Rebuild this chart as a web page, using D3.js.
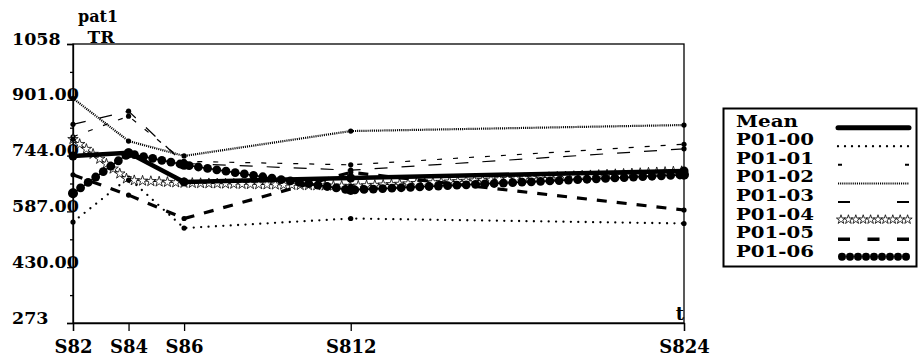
<!DOCTYPE html>
<html><head><meta charset="utf-8">
<script src="https://cdn.jsdelivr.net/npm/d3@7"></script>
<style>body{margin:0;background:#fff}text{font-family:"DejaVu Serif",serif;font-weight:bold;fill:#000}</style>
</head><body>
<script>
const times = [2, 4, 6, 12, 24];
const timeLabels = ["S82", "S84", "S86", "S812", "S824"];
const yTickValues = [1058, 901, 744, 587, 430, 273];
const yTickLabels = ["1058", "901.00", "744.00", "587.00", "430.00", "273"];
const seriesNames = ["Mean", "P01-00", "P01-01", "P01-02", "P01-03", "P01-04", "P01-05", "P01-06"];
const mean = [743, 752, 670, 681, 701];
const p00 = [557, 681, 540, 567, 553];
const p01 = [797, 855, 728, 718, 776];
const p02 = [905, 785, 743, 813, 830];
const p03 = [832, 869, 722, 703, 763];
const p04 = [790, 675, 667, 658, 700];
const p05 = [690, 633, 567, 697, 591];
const p06 = [638, 750, 718, 647, 690];
const seriesValues = [mean, p00, p01, p02, p03, p04, p05, p06];

const W = 922, H = 361;
const L = 73, R = 684, T = 44, B = 323;
const svg = d3.select("body").append("svg").attr("width", W).attr("height", H);

const x = d3.scaleLinear().domain([2, 24]).range([L, R]);
const y = d3.scaleLinear().domain([273, 1058]).range([B, T]);

// frame
svg.append("rect").attr("x", L).attr("y", T).attr("width", R - L).attr("height", B - T)
  .attr("fill", "none").attr("stroke", "#000").attr("stroke-width", 1.3);

// y axis: major + minor ticks
const minor = d3.pairs(yTickValues).map(([a, b]) => (a + b) / 2);
const yAxisG = svg.append("g").attr("transform", `translate(${L},0)`)
  .call(d3.axisLeft(y).tickValues(yTickValues).tickSize(6).tickFormat((d, i) => yTickLabels[i]));
yAxisG.select(".domain").attr("stroke-width", 1.3);
yAxisG.selectAll(".tick line").attr("stroke-width", 1.3);
yAxisG.selectAll(".tick text").attr("x", 12 - L).attr("dy", 0).attr("text-anchor", "start")
  .style("font-size", "17.5px").style("font-family", '"DejaVu Serif",serif').style("font-weight", "bold");
const yMinorG = svg.append("g").attr("transform", `translate(${L},0)`)
  .call(d3.axisLeft(y).tickValues(minor).tickSize(3).tickFormat(""));
yMinorG.select(".domain").remove();
yMinorG.selectAll(".tick line").attr("stroke-width", 1.3);

// x axis
const xAxisG = svg.append("g").attr("transform", `translate(0,${B})`)
  .call(d3.axisBottom(x).tickValues(times).tickSize(8).tickFormat((d, i) => timeLabels[i]));
xAxisG.select(".domain").attr("stroke-width", 1.3);
xAxisG.selectAll(".tick line").attr("stroke-width", 1.3);
xAxisG.selectAll(".tick text").attr("y", 30).attr("dy", 0)
  .style("font-size", "18px").style("font-family", '"DejaVu Serif",serif').style("font-weight", "bold");

// axis titles
svg.append("text").attr("x", 98).attr("y", 22).attr("text-anchor", "middle").style("font-size", "16px").text("pat1");
svg.append("text").attr("x", 101).attr("y", 42.5).attr("text-anchor", "middle").style("font-size", "17px").text("TR");
svg.append("text").attr("x", 684).attr("y", 320).attr("text-anchor", "end").style("font-size", "18px").text("t");

const line = d3.line().x((d, i) => x(times[i])).y(d => y(d));
const plot = svg.append("g");

const styles = [
  { w: 4.5, dash: null, cap: "round" },
  { w: 2.3, dash: "0,7.4", cap: "round" },
  { w: 1.2, dash: "5,11", cap: "butt" },
  { w: 2.2, dash: "1.1,1", cap: "butt" },
  { w: 1.2, dash: "13,14", cap: "butt" },
  { w: 1.0, dash: null, cap: "butt" },
  { w: 3.2, dash: "10,10", cap: "butt" },
  { w: 1.5, dash: null, cap: "butt" }
];

function along(node, step) {
  const len = node.getTotalLength();
  const pts = [];
  for (let s = 0; s <= len + 0.01; s += step) pts.push(node.getPointAtLength(Math.min(s, len)));
  return pts;
}
const star = d3.symbol().type(d3.symbolStar).size(34);
const starSmall = d3.symbol().type(d3.symbolStar).size(26);

// draw order: thin lines first, then heavy ones
const order = [3, 2, 4, 1, 5, 7, 6, 0];
order.forEach(k => {
  const vals = seriesValues[k];
  const st = styles[k];
  const p = plot.append("path").datum(vals).attr("d", line)
    .attr("fill", "none").attr("stroke", "#000").attr("stroke-width", st.w)
    .attr("stroke-linecap", st.cap).attr("stroke-linejoin", "round");
  if (st.dash) p.attr("stroke-dasharray", st.dash);
  if (k === 5) {
    along(p.node(), 8.3).forEach(pt => {
      plot.append("path").attr("d", star).attr("transform", `translate(${pt.x},${pt.y})`)
        .attr("fill", "#fff").attr("stroke", "#000").attr("stroke-width", 0.8);
    });
  }
  if (k === 7) {
    along(p.node(), 9.3).forEach(pt => {
      plot.append("circle").attr("cx", pt.x).attr("cy", pt.y).attr("r", 4.4).attr("fill", "#000");
    });
  }
  plot.selectAll(null).data(vals).enter().append("circle")
    .attr("cx", (d, i) => x(times[i])).attr("cy", d => y(d))
    .attr("r", k === 0 ? 4.5 : k === 7 ? 5 : 2.6).attr("fill", "#000");
});

// legend
const lg = svg.append("g");
lg.append("rect").attr("x", 723.5).attr("y", 108.5).attr("width", 193).attr("height", 158)
  .attr("fill", "#fff").attr("stroke", "#000").attr("stroke-width", 2);
const ly = d3.scaleLinear().domain([0, 7]).range([126.7, 256.7]);
const lx0 = 838, lx1 = 909;
const legendDash = [null, "0,7", "4,63", "1.1,1", "12,47", null, "12,17.5", null];
const legendW = [5, 2.3, 2, 2, 2, 1, 3.5, 1];
seriesNames.forEach((nm, k) => {
  const yy = ly(k);
  lg.append("text").attr("x", 736).attr("y", yy).style("font-size", "16.5px")
    .attr("textLength", k === 0 ? 62 : 78).attr("lengthAdjust", "spacingAndGlyphs").text(nm);
  const sy = yy + 1;
  if (k === 5) {
    for (let i = 0; i < 10; i++) {
      lg.append("path").attr("d", starSmall).attr("transform", `translate(${841 + i * 7.4},${sy - 1})`)
        .attr("fill", "#fff").attr("stroke", "#000").attr("stroke-width", 0.8);
    }
  } else if (k === 7) {
    for (let i = 0; i < 9; i++) {
      lg.append("circle").attr("cx", 842 + i * 8).attr("cy", sy - 1).attr("r", 4).attr("fill", "#000");
    }
  } else {
    const l = lg.append("line").attr("x1", lx0).attr("x2", lx1).attr("y1", sy).attr("y2", sy)
      .attr("stroke", "#000").attr("stroke-width", legendW[k])
      .attr("stroke-linecap", k === 0 || k === 1 ? "round" : "butt");
    if (legendDash[k]) l.attr("stroke-dasharray", legendDash[k]);
  }
});
</script>
</body></html>
